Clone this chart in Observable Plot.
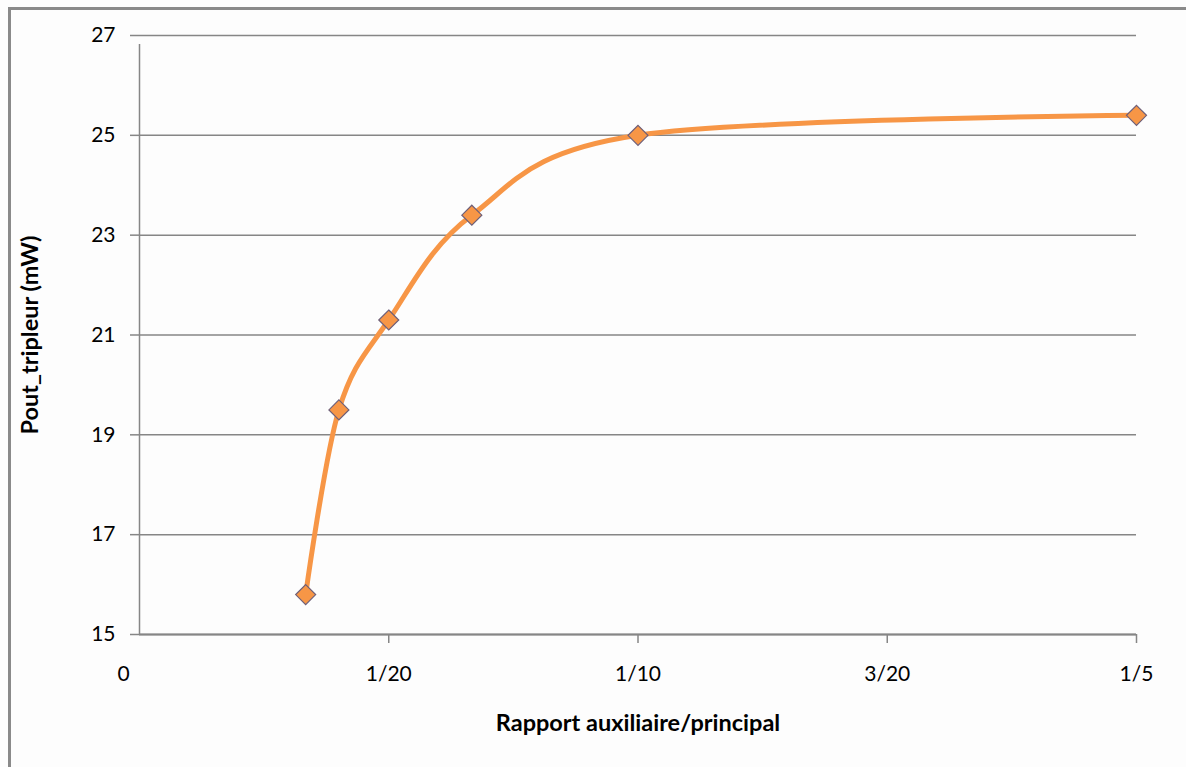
<!DOCTYPE html>
<html>
<head>
<meta charset="utf-8">
<script src="https://cdn.jsdelivr.net/npm/d3@7"></script>
<script src="https://cdn.jsdelivr.net/npm/@observablehq/plot@0.6"></script>
<style>
  html, body { margin: 0; padding: 0; background: #fdfdfd; }
  #wrap { position: relative; width: 1186px; height: 767px; overflow: hidden; }
  #frame { position: absolute; left: 8px; top: 7px; width: 1200px; height: 800px;
           border-left: 3px solid #8a8a8a; border-top: 3px solid #8a8a8a; box-sizing: border-box; }
  #chart { position: absolute; left: 0; top: 0; }
  #chart svg { background: transparent; }
  g[aria-label="x-axis label"] text, g[aria-label="y-axis label"] text { font-weight: bold; font-size: 23.5px; fill: #000; }
</style>
</head>
<body>
<div id="wrap"><div id="frame"></div><div id="chart"></div></div>
<script>
// Data
const ratios = [1/30, 1/25, 1/20, 1/15, 1/10, 1/5];
const pout = [15.8, 19.5, 21.3, 23.4, 25.0, 25.4];
const xTicks = [0, 0.05, 0.1, 0.15, 0.2];
const xTickLabels = ["0", "1/20", "1/10", "3/20", "1/5"];
const yTicks = [15, 17, 19, 21, 23, 25, 27];

const rows = ratios.map((r, i) => ({x: r, y: pout[i]}));
const labelOf = v => xTickLabels[xTicks.findIndex(t => Math.abs(t - v) < 1e-9)];

const orange = "#f79646";
const grid = "#868686";

const chart = Plot.plot({
  width: 1186,
  height: 767,
  marginLeft: 139,
  marginRight: 50,
  marginTop: 35,
  marginBottom: 133,
  style: {fontFamily: "Lato, 'Open Sans', sans-serif", fontSize: "21px", color: "#000", background: "transparent"},
  x: {domain: [0, 0.2]},
  y: {domain: [15, 27]},
  marks: [
    Plot.ruleY(yTicks, {x1: 0, x2: 0.2, stroke: grid, strokeWidth: 1.5}),
    Plot.axisY({ticks: yTicks, tickSize: 9, tickPadding: 15, stroke: grid, strokeWidth: 1.5, strokeOpacity: 1,
      label: "Pout_tripleur (mW)", labelAnchor: "center", labelOffset: 118, labelArrow: "none", fill: "#000"}),
    Plot.axisX({ticks: xTicks.slice(1), tickSize: 9, tickPadding: 23, stroke: grid, strokeWidth: 1.5, strokeOpacity: 1,
      tickFormat: labelOf, label: "Rapport auxiliaire/principal", labelAnchor: "center", labelOffset: 96, labelArrow: "none", fill: "#000"}),
    Plot.axisX({ticks: [0], tickSize: 0, tickPadding: 32, dx: -16, tickFormat: labelOf, label: null, fill: "#000"}),
    Plot.ruleX([0], {y1: 15, y2: 27, stroke: grid, strokeWidth: 1.5, insetBottom: -9}),
    Plot.ruleY([15], {x1: 0, x2: 0.2, stroke: grid, strokeWidth: 2}),
    Plot.line(rows, {x: "x", y: "y", curve: "cardinal", stroke: orange, strokeWidth: 5}),
    Plot.dot(rows, {x: "x", y: "y", symbol: "diamond2", r: 9, fill: orange, stroke: "#6e5f78", strokeWidth: 1.2})
  ]
});
document.getElementById("chart").appendChild(chart);
</script>
</body>
</html>
